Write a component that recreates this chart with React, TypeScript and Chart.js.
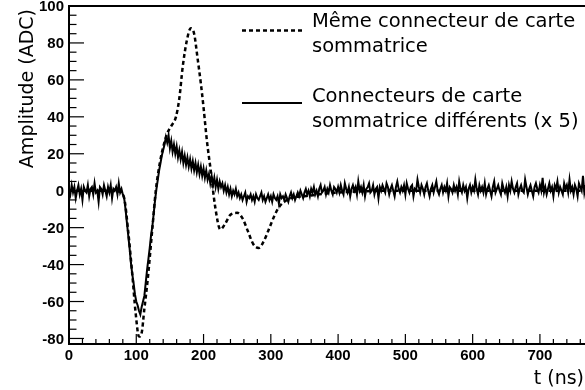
import React, { useEffect, useRef } from "react";
import { Chart, registerables } from "chart.js";

Chart.register(...registerables);

// ---- Data ----
const legendSame = ["Même connecteur de carte", "sommatrice"];
const legendDiff = ["Connecteurs de carte", "sommatrice différents (x 5)"];
const xTitle = "t (ns)";
const yTitle = "Amplitude (ADC)";

const xTickValues = [0, 100, 200, 300, 400, 500, 600, 700];
const yTickValues = [-80, -60, -40, -20, 0, 20, 40, 60, 80, 100];

// Solid (noisy) series: sampled every 2 ns starting at 0 ns
const SOLID_T0 = 0;
const SOLID_DT = 2;
const solidValues = [
  // 0 .. 80
  1, -2, 3, -1, 2, -4, 0, 3, -2, 1, -5, 2, 0, -1, 3, -3, 1, 2, -2, 4,
  -1, 0, -6, 2, 1, -2, 3, 0, -3, 2, -1, 3, -4, 1, 0, 2, -2, 4, -1, 1, -2,
  // 82 .. 130
  -4, -10, -17, -24, -31, -39, -45, -50, -56, -60, -62, -65, -67, -63, -60, -57, -50, -43, -37, -31,
  -24, -19, -12, -5, 1,
  // 132 .. 250
  6, 11, 15, 19, 22, 25, 29, 26, 30, 23, 27, 21, 25, 20, 24, 18, 22, 17, 21, 15,
  19, 14, 18, 13, 17, 12, 16, 11, 15, 10, 14, 9, 13, 8, 12, 7, 11, 6, 9, 4,
  8, 3, 7, 2, 6, 1, 5, 2, 4, 0, 3, -1, 2, -2, 1, -3, 0, -2, 1, -3,
  // 252 .. 398
  -1, -4, -2, -5, -3, -1, -6, -3, -4, -2, -5, -3, -6, -2, -4, -5, -3, -1, -5, -3,
  -6, -4, -2, -5, -3, -6, -2, -4, -5, -3, -7, -2, -4, -3, -5, -2, -4, -6, -3, -1,
  -4, -2, -5, -3, -1, -3, 0, -2, -4, -1, 1, -2, 0, -3, 1, -1, 2, -2, 0, -3,
  1, 3, -1, 0, 2, -2, 1, -1, 3, 0, -2, 2, 1, -1,
  // 400 .. 768
  2, -1, 3, 0, -2, 4, 1, -1, 2, -3, 1, 3, 0, 2, -2, 5, 0, 2, -1, 3,
  -3, 1, 2, 4, -1, 0, 3, -2, 1, 2, -4, 2, 0, 3, 1, -1, 4, 2, -2, 1,
  3, 0, -3, 2, 5, 1, -1, 2, 0, 3, -2, 4, 1, -1, 2, 3, -3, 1, 0, 6,
  2, -1, 3, 1, -2, 2, 4, 0, -3, 1, 3, -1, 2, 5, 0, -2, 1, 3, -1, 2,
  0, 4, -3, 2, 1, -1, 3, 0, 2, -2, 5, 1, -1, 3, 0, 2, -4, 1, 3, -1,
  2, 0, 6, 1, -2, 3, 0, 2, -1, 4, -2, 1, 3, 0, -3, 2, 5, -1, 1, 3,
  0, -2, 4, 1, -1, 2, -3, 3, 0, 5, 1, -1, 2, 4, -2, 1, 3, 0, -1, 6,
  2, -2, 1, 3, 0, -3, 2, 4, 1, -1, 3, 0, 7, -1, 2, -2, 1, 4, 0, 2,
  -3, 3, 1, 5, -1, 2, 0, -2, 4, 1, 3, -1, 6, 0, 2, -2, 3, 1, -3, 4,
  2, 0, 8, -1, 3,
];

// Dashed (smooth) series
const dashedTimes = [
  0, 20, 40, 60, 75, 82, 88, 94, 99, 104, 108, 112, 117, 124, 129, 135, 141, 146, 152, 159, 164, 169,
  175, 181, 186, 191, 196, 200, 205, 211, 217, 225, 232, 240, 250, 258, 266, 274, 282, 290, 298, 306,
  312, 320, 330, 350, 400, 500, 600, 700, 767,
];
const dashedValues = [
  0, 0, 0, 0, -0.5, -4, -22, -45, -66, -79, -77, -64, -48, -20, 0, 15, 25, 31, 35, 40, 50, 67,
  81, 88, 85, 72, 58, 45, 27, 10, -8, -21, -18, -13, -12, -15, -22, -29, -31, -27, -20, -13,
  -9, -6, -4, -3, -1, 0, 0, 0, 0,
];

const X_MIN = 0;
const X_MAX = 767;
const Y_MIN = -83;
const Y_MAX = 100;

const decorPlugin = {
  id: "rootDecor",
  afterDraw(chart: any) {
    const { ctx, chartArea: ca, scales } = chart;
    const x = scales.x;
    const y = scales.y;
    ctx.save();
    const line = (x1: number, y1: number, x2: number, y2: number) => {
      ctx.beginPath();
      ctx.moveTo(x1, y1);
      ctx.lineTo(x2, y2);
      ctx.stroke();
    };
    ctx.strokeStyle = "#000";
    ctx.fillStyle = "#000";
    // ticks (inward)
    ctx.lineWidth = 1.2;
    for (let v = X_MIN; v <= X_MAX; v += 20) {
      const px = x.getPixelForValue(v);
      const len = v % 100 === 0 ? 10 : 5;
      line(px, ca.bottom, px, ca.bottom - len);
    }
    for (let v = -80; v <= Y_MAX; v += 5) {
      const py = y.getPixelForValue(v);
      const len = v % 20 === 0 ? 15 : 7.5;
      line(ca.left, py, ca.left + len, py);
    }
    // frame
    ctx.lineWidth = 2;
    line(ca.left, ca.top, ca.right, ca.top);
    line(ca.left, ca.top - 1, ca.left, ca.bottom + 1);
    line(ca.left - 1, ca.bottom, ca.right, ca.bottom);

    // tick labels
    ctx.font = 'bold 15px "Liberation Sans", Arial, sans-serif';
    ctx.textBaseline = "alphabetic";
    ctx.textAlign = "center";
    xTickValues.forEach((v) => {
      ctx.fillText(String(v), x.getPixelForValue(v), 360);
    });
    ctx.textAlign = "right";
    yTickValues.forEach((v) => {
      ctx.fillText(String(v), 64, y.getPixelForValue(v) + 5.3);
    });

    // axis titles
    ctx.font = '19px "DejaVu Sans"';
    ctx.textAlign = "right";
    ctx.fillText(xTitle, 584, 384);
    ctx.save();
    ctx.translate(33, 9);
    ctx.rotate(-Math.PI / 2);
    ctx.textAlign = "right";
    ctx.fillText(yTitle, 0, 0);
    ctx.restore();

    // legend
    ctx.font = '19.5px "DejaVu Sans"';
    ctx.textAlign = "left";
    ctx.lineWidth = 2.5;
    ctx.setLineDash([4, 3]);
    line(242, 30.5, 302, 30.5);
    ctx.setLineDash([]);
    ctx.lineWidth = 2;
    line(242, 103, 302, 103);
    ctx.fillText(legendSame[0], 312, 27);
    ctx.fillText(legendSame[1], 312, 52);
    ctx.fillText(legendDiff[0], 312, 102);
    ctx.fillText(legendDiff[1], 312, 127);
    ctx.restore();
  },
};

export default function App() {
  const ref = useRef<HTMLCanvasElement | null>(null);
  useEffect(() => {
    if (!ref.current) return;
    const solidPts = solidValues.map((v, i) => ({ x: SOLID_T0 + i * SOLID_DT, y: v }));
    const dashedPts = dashedTimes.map((t, i) => ({ x: t, y: dashedValues[i] }));
    const chart = new Chart(ref.current, {
      type: "line",
      data: {
        datasets: [
          {
            label: legendDiff.join(" "),
            data: solidPts,
            borderColor: "#000",
            borderWidth: 2,
            pointRadius: 0,
            tension: 0,
            fill: false,
          },
          {
            label: legendSame.join(" "),
            data: dashedPts,
            borderColor: "#000",
            borderWidth: 2.5,
            borderDash: [4, 3],
            pointRadius: 0,
            cubicInterpolationMode: "monotone",
            fill: false,
          },
        ],
      },
      options: {
        responsive: false,
        animation: false,
        devicePixelRatio: 1,
        layout: { padding: { top: 6, right: 0, left: 0, bottom: 0 } },
        plugins: { legend: { display: false }, tooltip: { enabled: false } },
        scales: {
          x: {
            type: "linear",
            min: X_MIN,
            max: X_MAX,
            afterBuildTicks: (s: any) => {
              s.ticks = xTickValues.map((v) => ({ value: v }));
            },
            afterFit: (s: any) => {
              s.height = 46;
            },
            grid: { display: false, drawTicks: false },
            border: { display: false },
            ticks: { display: false },
          },
          y: {
            type: "linear",
            min: Y_MIN,
            max: Y_MAX,
            afterBuildTicks: (s: any) => {
              s.ticks = yTickValues.map((v) => ({ value: v }));
            },
            afterFit: (s: any) => {
              s.width = 69;
            },
            grid: { display: false, drawTicks: false },
            border: { display: false },
            ticks: { display: false },
          },
        },
      },
      plugins: [decorPlugin],
    });
    return () => chart.destroy();
  }, []);
  return (
    <div style={{ position: "absolute", left: 0, top: 0, width: 585, height: 390, background: "#fff" }}>
      <canvas ref={ref} width={585} height={390} />
    </div>
  );
}
